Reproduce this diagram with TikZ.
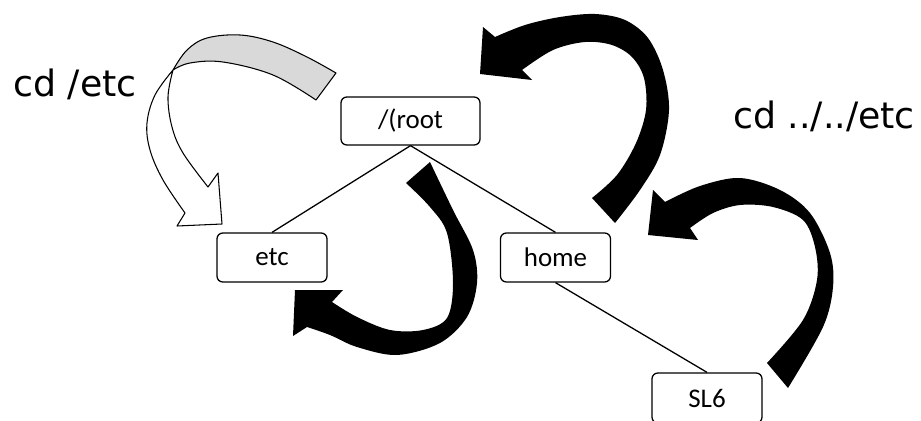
\documentclass[tikz,border=0pt]{standalone}
\usepackage{fontspec}
\newfontfamily\boxfont{Carlito}
\newfontfamily\cmdfont{DejaVu Sans}
\begin{document}
\begin{tikzpicture}[x=0.03cm,y=-0.03cm,
  box/.style={draw, line width=1.1pt, rounded corners=5pt, fill=white,
    minimum width=3.3cm, minimum height=1.47cm, inner sep=0pt,
    font=\boxfont\fontsize{23}{27}\selectfont},
  link/.style={line width=1.1pt},
  blk/.style={fill=black},
  cmd/.style={font=\cmdfont\fontsize{31}{36}\selectfont, inner sep=0pt}]
\useasboundingbox (0,0) rectangle (921,421);
% texts
\node[cmd] (c1) at (75,84) {cd /etc};
\node[cmd] (c2) at (824,116) {cd ../../etc};
% nodes
\node[box, minimum width=4.17cm, minimum height=1.44cm] (root) at (410.5,121) {/(root};
\node[box] (etc) at (272,257.5) {etc};
\node[box] (home) at (555.5,257.5) {home};
\node[box, minimum height=1.5cm] (sl6) at (707,398) {SL6};
% connectors
\draw[link] (root.south) -- (etc.north);
\draw[link] (root.south) -- (home.north);
\draw[link] (home.south) -- (sl6.north);
% gray/white arrow
\filldraw[fill=gray!30, line width=0.9pt, line join=round]
  plot[smooth, tension=0.6] coordinates {(336,73) (307,57) (273,42) (240,35) (207,38) (187,50) (173,70)}
  -- plot[smooth, tension=0.6] coordinates {(173,70) (190,63) (223,62) (273,75) (316,100)}
  -- cycle;
\filldraw[fill=white, line width=0.9pt, line join=round]
  plot[smooth, tension=0.6] coordinates {(173,70) (155,95) (147,123) (150,150) (163,180) (185,213)}
  -- (177,226) -- (222,224) -- (218,173) --
  plot[smooth, tension=0.6] coordinates {(208,187) (183,153) (172,127) (168,97) (173,70)}
  -- cycle;
% top black arrow
\fill[blk]
  plot[smooth, tension=0.55] coordinates {(495,37) (525,25) (560,17) (595,14) (625,20) (648,38) (663,70) (669,110) (660,155) (640,190) (615,223)}
  -- plot[smooth, tension=0.55] coordinates {(592,198) (617,175) (636,143) (646,110) (644,78) (632,57) (612,45) (585,42) (553,50) (522,70)}
  -- (532,80) -- (480,74) -- (483,27) -- cycle;
% right black arrow
\fill[blk]
  plot[smooth, tension=0.55] coordinates {(665,202) (700,186) (740,178) (780,190) (810,213) (830,253) (833,287) (823,327) (788,388)}
  -- plot[smooth, tension=0.55] coordinates {(767,363) (803,320) (817,280) (815,247) (803,220) (773,207) (740,205) (713,213) (690,228)}
  -- (698,240) -- (648,235) -- (653,190) -- cycle;
% middle black arrow
\fill[blk]
  plot[smooth, tension=0.55] coordinates {(430,162) (453,210) (473,250) (477,283) (467,317) (440,343) (397,355) (357,347) (330,335) (307,327)}
  -- (293,336) -- (295,290) -- (343,290) --
  plot[smooth, tension=0.55] coordinates {(332,302) (357,317) (390,330) (423,330) (447,318) (453,283) (447,233) (430,207) (406,183)}
  -- cycle;
\end{tikzpicture}
\end{document}
